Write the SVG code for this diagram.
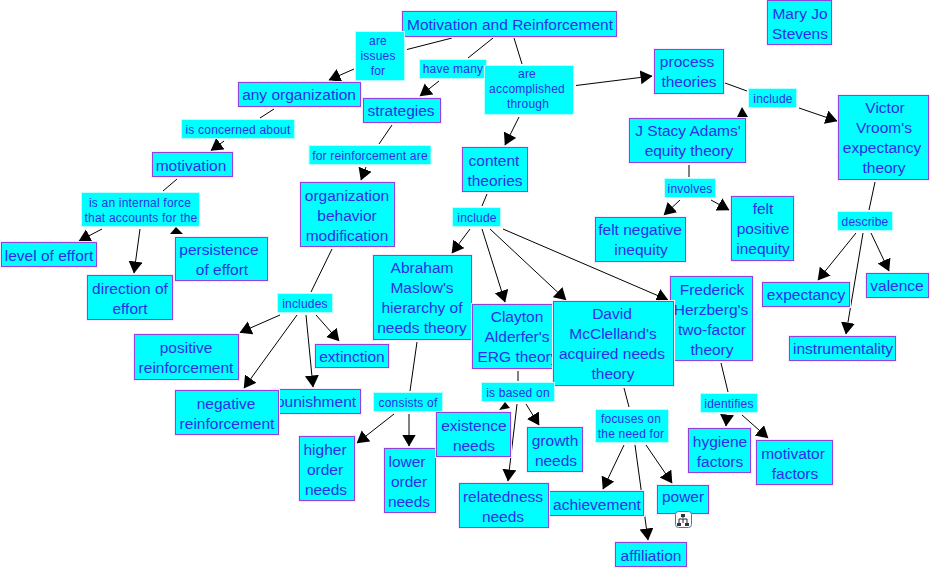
<svg xmlns="http://www.w3.org/2000/svg" width="931" height="570" viewBox="0 0 931 570">
<style>
text{font-family:"Liberation Sans",Arial,sans-serif;fill:#2e2ee6;text-anchor:middle}
.n rect{fill:#00ffff;stroke:#9440e0;stroke-width:1;filter:none}
.n .g{fill:none;stroke:#fbe6fb;stroke-width:1}
.n text{font-size:15.5px}
.l rect{fill:#00ffff;stroke:#b8ffff;stroke-width:1}
.l text{font-size:12px;letter-spacing:.2px}
#connectors line{stroke:#000;stroke-width:1;fill:none}
#connectors line.a{marker-end:url(#arrow)}
#connectors polygon{fill:#000}
</style>
<defs>
<marker id="arrow" markerUnits="userSpaceOnUse" markerWidth="15" markerHeight="15" refX="11.5" refY="7" orient="auto"><path d="M0,0L12,7L0,14Z" fill="#000"/></marker>
</defs>
<rect width="931" height="570" fill="#fff"/>
<g id="connectors">
<line x1="452" y1="38" x2="407" y2="49.5"/>
<line class="a" x1="354" y1="69" x2="329" y2="80"/>
<line x1="493" y1="38" x2="468" y2="58"/>
<line class="a" x1="439" y1="81" x2="420" y2="96"/>
<line x1="514" y1="38" x2="522" y2="64"/>
<line class="a" x1="576" y1="85.5" x2="652" y2="76"/>
<line class="a" x1="519" y1="117" x2="505" y2="145"/>
<line x1="725" y1="83" x2="747" y2="91"/>
<line class="a" x1="799" y1="108" x2="837" y2="121"/>
<polygon points="742,107 737,117 748,117"/>
<line x1="274" y1="109" x2="260" y2="118"/>
<line class="a" x1="224" y1="141" x2="211" y2="150.5"/>
<line x1="177" y1="179" x2="163" y2="191"/>
<line class="a" x1="102" y1="229" x2="79" y2="241"/>
<line class="a" x1="140" y1="229" x2="134" y2="273"/>
<polygon points="176,227 170,234 183,234"/>
<line x1="392" y1="125" x2="379" y2="144"/>
<line class="a" x1="366" y1="167" x2="361" y2="180"/>
<line x1="332" y1="249" x2="311" y2="292"/>
<line class="a" x1="280" y1="315" x2="240" y2="332.5"/>
<line class="a" x1="297" y1="315" x2="244" y2="388"/>
<line class="a" x1="306" y1="315" x2="313" y2="387"/>
<line class="a" x1="316" y1="315" x2="339" y2="341"/>
<line x1="417" y1="342" x2="410" y2="391"/>
<line class="a" x1="394" y1="414" x2="357" y2="443"/>
<line class="a" x1="409" y1="414" x2="409" y2="446"/>
<line x1="487" y1="194" x2="482" y2="206"/>
<line class="a" x1="470" y1="229" x2="452" y2="253"/>
<line class="a" x1="482" y1="229" x2="505" y2="302"/>
<line class="a" x1="490" y1="229" x2="566" y2="300"/>
<line class="a" x1="503" y1="229" x2="668" y2="300"/>
<line x1="518" y1="371" x2="518" y2="381"/>
<polygon points="505,402 499,410 510,408"/>
<line class="a" x1="517" y1="404" x2="508" y2="481"/>
<line class="a" x1="526" y1="404" x2="539" y2="425"/>
<line x1="624" y1="388" x2="629" y2="407"/>
<line class="a" x1="624" y1="445" x2="603" y2="489"/>
<line class="a" x1="635" y1="445" x2="648" y2="540"/>
<line class="a" x1="646" y1="445" x2="672" y2="483"/>
<line x1="721" y1="363" x2="728" y2="392"/>
<line class="a" x1="727" y1="415" x2="726" y2="426"/>
<line class="a" x1="742" y1="415" x2="768" y2="438"/>
<line x1="875" y1="182" x2="869" y2="210"/>
<line class="a" x1="856" y1="233" x2="818" y2="280"/>
<line class="a" x1="863" y1="233" x2="846" y2="334"/>
<line class="a" x1="871" y1="233" x2="889" y2="271"/>
<line x1="689" y1="165" x2="689" y2="177"/>
<line class="a" x1="680" y1="200" x2="664" y2="215"/>
<line class="a" x1="711" y1="200" x2="729" y2="210"/>
</g>
<g id="n-motivation-reinforcement" class="n"><rect class="g" x="401.5" y="10.5" width="216" height="27"/><rect x="402.5" y="11.5" width="214" height="25"/><text x="510" y="30">Motivation and Reinforcement</text></g>
<g id="n-mary" class="n"><rect class="g" x="766.5" y="-.5" width="66" height="46"/><rect x="767.5" y=".5" width="64" height="44"/><text x="800" y="19">Mary Jo</text><text x="800" y="39">Stevens</text></g>
<g id="n-process" class="n"><rect class="g" x="653.5" y="48.5" width="71" height="46"/><rect x="654.5" y="49.5" width="69" height="44"/><text x="687" y="67">process</text><text x="689" y="87">theories</text></g>
<g id="n-victor" class="n"><rect class="g" x="837.5" y="94.5" width="92" height="86"/><rect x="838.5" y="95.5" width="90" height="84"/><text x="885" y="113">Victor</text><text x="884" y="133">Vroom's</text><text x="882" y="153">expectancy</text><text x="884" y="173">theory</text></g>
<g id="n-stacy" class="n"><rect class="g" x="628.5" y="117.5" width="118" height="46"/><rect x="629.5" y="118.5" width="116" height="44"/><text x="688" y="136">J Stacy Adams'</text><text x="689" y="156">equity theory</text></g>
<g id="n-content" class="n"><rect class="g" x="461.5" y="146.5" width="67" height="46"/><rect x="462.5" y="147.5" width="65" height="44"/><text x="494" y="166">content</text><text x="495" y="186">theories</text></g>
<g id="n-felt-negative" class="n"><rect class="g" x="594.5" y="216.5" width="92" height="46"/><rect x="595.5" y="217.5" width="90" height="44"/><text x="640" y="235">felt negative</text><text x="641" y="255">inequity</text></g>
<g id="n-felt-positive" class="n"><rect class="g" x="730.5" y="195.5" width="64" height="66"/><rect x="731.5" y="196.5" width="62" height="64"/><text x="763" y="214">felt</text><text x="763" y="234">positive</text><text x="763" y="254">inequity</text></g>
<g id="n-any-org" class="n"><rect class="g" x="237.5" y="81.5" width="124" height="26"/><rect x="238.5" y="82.5" width="122" height="24"/><text x="299" y="100">any organization</text></g>
<g id="n-strategies" class="n"><rect class="g" x="362.5" y="97.5" width="79" height="26"/><rect x="363.5" y="98.5" width="77" height="24"/><text x="401" y="116">strategies</text></g>
<g id="n-motivation" class="n"><rect class="g" x="151.5" y="151.5" width="82" height="26"/><rect x="152.5" y="152.5" width="80" height="24"/><text x="191" y="171">motivation</text></g>
<g id="n-obm" class="n"><rect class="g" x="299.5" y="181.5" width="96" height="66"/><rect x="300.5" y="182.5" width="94" height="64"/><text x="347" y="201">organization</text><text x="347" y="221">behavior</text><text x="347" y="241">modification</text></g>
<g id="n-level" class="n"><rect class="g" x=".5" y="241.5" width="97" height="26"/><rect x="1.5" y="242.5" width="95" height="24"/><text x="49" y="261">level of effort</text></g>
<g id="n-persistence" class="n"><rect class="g" x="174.5" y="236.5" width="94" height="45"/><rect x="175.5" y="237.5" width="92" height="43"/><text x="219" y="255">persistence</text><text x="222" y="275">of effort</text></g>
<g id="n-direction" class="n"><rect class="g" x="86.5" y="274.5" width="87" height="46"/><rect x="87.5" y="275.5" width="85" height="44"/><text x="130" y="294">direction of</text><text x="130" y="314">effort</text></g>
<g id="n-abraham" class="n"><rect class="g" x="372.5" y="254.5" width="100" height="86"/><rect x="373.5" y="255.5" width="98" height="84"/><text x="422" y="273">Abraham</text><text x="422" y="293">Maslow's</text><text x="422" y="313">hierarchy of</text><text x="422" y="333">needs theory</text></g>
<g id="n-positive" class="n"><rect class="g" x="133.5" y="333.5" width="106" height="47"/><rect x="134.5" y="334.5" width="104" height="45"/><text x="186" y="353">positive</text><text x="186" y="373">reinforcement</text></g>
<g id="n-punishment" class="n"><rect class="g" x="271.5" y="388.5" width="90" height="26"/><rect x="272.5" y="389.5" width="88" height="24"/><text x="316" y="407">punishment</text></g>
<g id="n-negative" class="n"><rect class="g" x="174.5" y="389.5" width="105" height="46"/><rect x="175.5" y="390.5" width="103" height="44"/><text x="226" y="409">negative</text><text x="227" y="429">reinforcement</text></g>
<g id="n-extinction" class="n"><rect class="g" x="314.5" y="343.5" width="75" height="25"/><rect x="315.5" y="344.5" width="73" height="23"/><text x="352" y="362">extinction</text></g>
<g id="n-higher" class="n"><rect class="g" x="298.5" y="435.5" width="57" height="66"/><rect x="299.5" y="436.5" width="55" height="64"/><text x="325" y="455">higher</text><text x="325" y="475">order</text><text x="326" y="495">needs</text></g>
<g id="n-lower" class="n"><rect class="g" x="383.5" y="447.5" width="53" height="66"/><rect x="384.5" y="448.5" width="51" height="64"/><text x="407" y="467">lower</text><text x="409" y="487">order</text><text x="409" y="507">needs</text></g>
<g id="n-existence" class="n"><rect class="g" x="435.5" y="411.5" width="76" height="46"/><rect x="436.5" y="412.5" width="74" height="44"/><text x="474" y="431">existence</text><text x="474" y="451">needs</text></g>
<g id="n-clayton" class="n"><rect class="g" x="471.5" y="303.5" width="91" height="66"/><rect x="472.5" y="304.5" width="89" height="64"/><text x="517" y="322">Clayton</text><text x="517" y="342">Alderfer's</text><text x="518" y="362">ERG theory</text></g>
<g id="n-frederick" class="n"><rect class="g" x="669.5" y="275.5" width="84" height="86"/><rect x="670.5" y="276.5" width="82" height="84"/><text x="712" y="295">Frederick</text><text x="711" y="315">Herzberg's</text><text x="712" y="335">two-factor</text><text x="712" y="355">theory</text></g>
<g id="n-david" class="n"><rect class="g" x="552.5" y="300.5" width="122" height="86"/><rect x="553.5" y="301.5" width="120" height="84"/><text x="612" y="319">David</text><text x="613" y="339">McClelland's</text><text x="612" y="359">acquired needs</text><text x="613" y="379">theory</text></g>
<g id="n-growth" class="n"><rect class="g" x="526.5" y="426.5" width="57" height="46"/><rect x="527.5" y="427.5" width="55" height="44"/><text x="555" y="446">growth</text><text x="556" y="466">needs</text></g>
<g id="n-achievement" class="n"><rect class="g" x="548.5" y="490.5" width="96" height="26"/><rect x="549.5" y="491.5" width="94" height="24"/><text x="597" y="510">achievement</text></g>
<g id="n-relatedness" class="n"><rect class="g" x="458.5" y="482.5" width="91" height="46"/><rect x="459.5" y="483.5" width="89" height="44"/><text x="503" y="502">relatedness</text><text x="503" y="522">needs</text></g>
<g id="n-power" class="n"><rect class="g" x="656.5" y="484.5" width="53" height="30"/><rect x="657.5" y="485.5" width="51" height="28"/><text x="683" y="502">power</text></g>
<g id="n-affiliation" class="n"><rect class="g" x="614.5" y="541.5" width="73" height="26"/><rect x="615.5" y="542.5" width="71" height="24"/><text x="651" y="561">affiliation</text></g>
<g id="n-hygiene" class="n"><rect class="g" x="687.5" y="427.5" width="64" height="46"/><rect x="688.5" y="428.5" width="62" height="44"/><text x="720" y="447">hygiene</text><text x="720" y="467">factors</text></g>
<g id="n-motivator" class="n"><rect class="g" x="755.5" y="439.5" width="78" height="46"/><rect x="756.5" y="440.5" width="76" height="44"/><text x="793" y="459">motivator</text><text x="795" y="479">factors</text></g>
<g id="n-expectancy" class="n"><rect class="g" x="761.5" y="281.5" width="89" height="26"/><rect x="762.5" y="282.5" width="87" height="24"/><text x="806" y="300">expectancy</text></g>
<g id="n-valence" class="n"><rect class="g" x="865.5" y="272.5" width="64" height="26"/><rect x="866.5" y="273.5" width="62" height="24"/><text x="897" y="291">valence</text></g>
<g id="n-instrumentality" class="n"><rect class="g" x="788.5" y="335.5" width="108" height="26"/><rect x="789.5" y="336.5" width="106" height="24"/><text x="843" y="354">instrumentality</text></g>
<g id="l-issues" class="l"><rect x="355.5" y="31.5" width="49" height="49"/><text x="378" y="45">are</text><text x="378" y="60">issues</text><text x="378" y="75">for</text></g>
<g id="l-have" class="l"><rect x="419.5" y="59.5" width="67" height="19"/><text x="453" y="73">have many</text></g>
<g id="l-accomplished" class="l"><rect x="484.5" y="65.5" width="89" height="49"/><text x="527" y="78">are</text><text x="527" y="93">accomplished</text><text x="528" y="108">through</text></g>
<g id="l-concerned" class="l"><rect x="181.5" y="119.5" width="113" height="19"/><text x="238" y="134">is concerned about</text></g>
<g id="l-reinforcement" class="l"><rect x="309" y="145.5" width="122" height="19"/><text x="370" y="160">for reinforcement are</text></g>
<g id="l-internal" class="l"><rect x="81.5" y="192.5" width="118" height="34"/><text x="140" y="207">is an internal force</text><text x="141" y="222">that accounts for the</text></g>
<g id="l-include-content" class="l"><rect x="452.5" y="207.5" width="48" height="19"/><text x="477" y="222">include</text></g>
<g id="l-include-process" class="l"><rect x="748.5" y="88.5" width="48" height="19"/><text x="773" y="103">include</text></g>
<g id="l-involves" class="l"><rect x="664.5" y="178.5" width="51" height="19"/><text x="690" y="193">involves</text></g>
<g id="l-describe" class="l"><rect x="837.5" y="211.5" width="55" height="19"/><text x="865" y="226">describe</text></g>
<g id="l-includes" class="l"><rect x="277.5" y="293.5" width="55" height="19"/><text x="305" y="308">includes</text></g>
<g id="l-consists" class="l"><rect x="373.5" y="392.5" width="69" height="19"/><text x="408" y="407">consists of</text></g>
<g id="l-based" class="l"><rect x="481.5" y="382.5" width="73" height="19"/><text x="518" y="397">is based on</text></g>
<g id="l-focuses" class="l"><rect x="595.5" y="409.5" width="73" height="33"/><text x="631" y="423">focuses on</text><text x="631" y="438">the need for</text></g>
<g id="l-identifies" class="l"><rect x="700.5" y="393.5" width="57" height="19"/><text x="729" y="408">identifies</text></g>
<g id="cmap-icon"><rect x="675.5" y="511.5" width="16" height="16" rx="3" fill="#fff" stroke="#3a78c8"/><path d="M683,515V518M679,523V519H687V523M683,519V523" fill="none" stroke="#223" stroke-width="1"/><rect x="681" y="514" width="4" height="3" fill="#334"/><rect x="677" y="523" width="4" height="3" fill="#334"/><rect x="685" y="523" width="4" height="3" fill="#334"/></g>
</svg>
